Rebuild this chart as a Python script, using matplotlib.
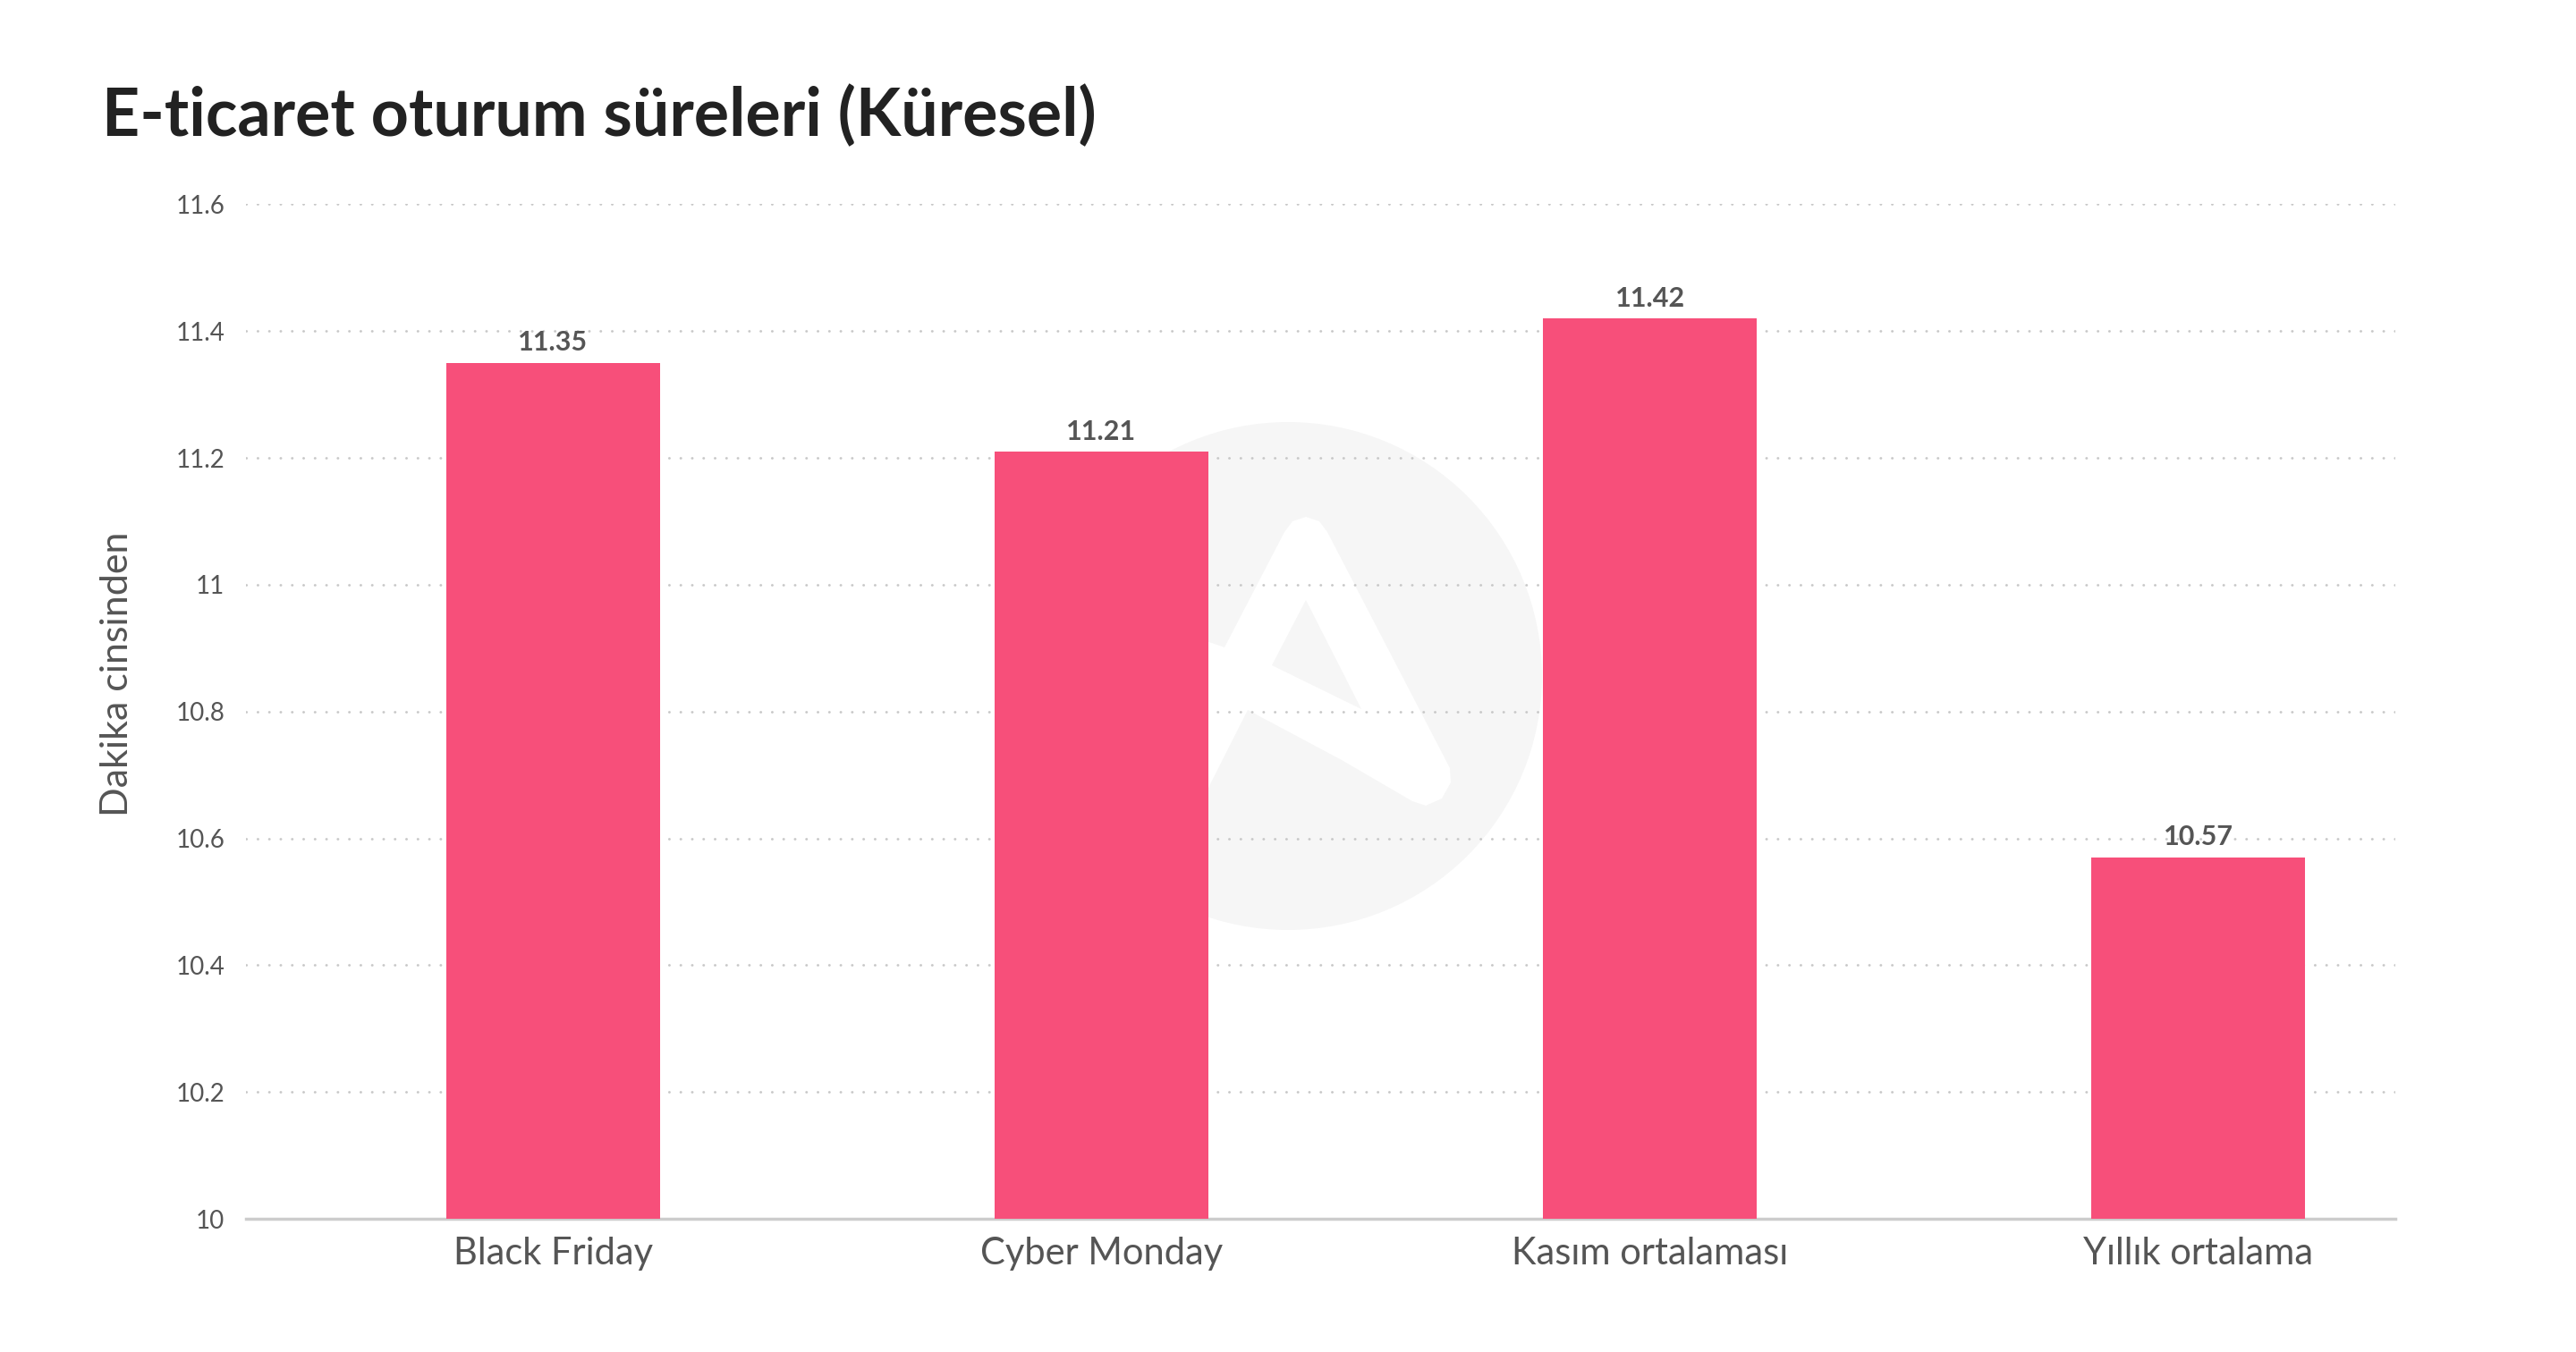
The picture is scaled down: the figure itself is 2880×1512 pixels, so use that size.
import matplotlib.pyplot as plt
import numpy as np
from matplotlib.patches import Circle, Polygon
from matplotlib.ticker import FuncFormatter

categories = ['Black Friday', 'Cyber Monday', 'Kasım ortalaması', 'Yıllık ortalama']
values = [11.35, 11.21, 11.42, 10.57]
yticks = [10, 10.2, 10.4, 10.6, 10.8, 11, 11.2, 11.4, 11.6]

title = 'E-ticaret oturum süreleri (Küresel)'
ylabel = 'Dakika cinsinden'

plt.rcParams['font.family'] = ['Lato', 'DejaVu Sans']

fig = plt.figure(figsize=(28.8, 15.12), dpi=100)

# watermark in the background (figure pixel coords)
bg = fig.add_axes([0, 0, 1, 1], zorder=0)
bg.set_xlim(0, 2880)
bg.set_ylim(1512, 0)
bg.axis('off')
bg.add_patch(Circle((1440, 756), 284, color='#f6f6f6', lw=0))
logo = [(1300, 700), (1369, 724), (1436, 595), (1445, 583), (1460, 578),
        (1475, 583), (1484, 595), (1621, 859), (1622, 875), (1612, 893),
        (1594, 901), (1579, 896), (1500, 850), (1395, 794), (1353, 877),
        (1340, 905), (1300, 905)]
bg.add_patch(Polygon(logo, closed=True, color='white', lw=0))
bg.add_patch(Polygon([(1460, 671), (1422, 744), (1522, 793)], closed=True,
                     color='#f6f6f6', lw=0))

ax = fig.add_axes([0.0955, 0.0985, 0.8345, 0.7505], zorder=1)
ax.patch.set_alpha(0)

x = np.arange(len(categories))
bars = ax.bar(x, values, width=0.39, color='#f74f7a', zorder=3)

for xi, v in zip(x, values):
    ax.annotate(f'{v:.2f}', (xi, v), xytext=(0, 6), textcoords='offset points',
                ha='center', va='bottom', fontsize=22, fontweight='bold',
                color='#555555', zorder=4)

ax.set_ylim(10, 11.6)
ax.set_xlim(-0.56, 3.36)
ax.set_yticks(yticks)
ax.yaxis.set_major_formatter(FuncFormatter(lambda v, p: f'{v:g}'))
ax.set_xticks(x)
ax.set_xticklabels(categories)

ax.tick_params(axis='y', length=0, pad=17, labelsize=20, labelcolor='#555555')
ax.tick_params(axis='x', length=0, pad=14, labelsize=30, labelcolor='#555555')

for v in yticks[1:]:
    ax.axhline(v, color='#c8c8c8', lw=2, ls=(0, (0.1, 4.5)),
               dash_capstyle='round', zorder=1)

for s in ['top', 'right', 'left']:
    ax.spines[s].set_visible(False)
ax.spines['bottom'].set_color('#cccccc')
ax.spines['bottom'].set_linewidth(2.5)
ax.spines['bottom'].set_zorder(2)

ax.set_ylabel(ylabel, fontsize=31, color='#555555')
ax.yaxis.set_label_coords(-0.052, 0.537)

fig.text(0.0396, 1 - 152 / 1512, title, ha='left', va='baseline',
         fontsize=53, fontweight='bold', color='#222222')

fig.savefig('out.png', dpi=100, facecolor='white')
